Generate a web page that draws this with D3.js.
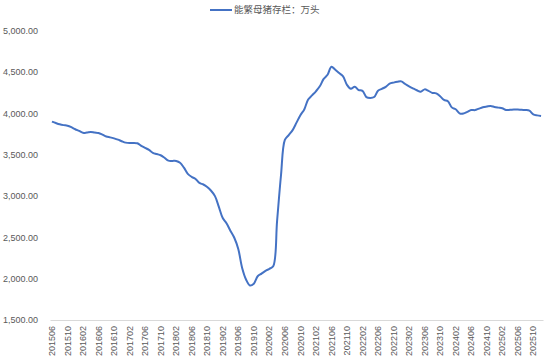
<!DOCTYPE html>
<html>
<head>
<meta charset="utf-8">
<script src="https://cdn.jsdelivr.net/npm/d3@7"></script>
<style>
  body { margin: 0; background: #fff; }
  text { font-family: "Liberation Sans", Arial, sans-serif; fill: #595959; }
</style>
</head>
<body>
<div class="chart"></div>
<script>
// monthly categories 201506 .. 202512
var months = [];
for (var yr = 2015, mo = 6; yr * 100 + mo <= 202512; mo++) {
    if (mo > 12) { mo = 1; yr++; }
    months.push(yr + (mo < 10 ? "0" : "") + mo);
}

var sows = [
    3902, 3885, 3870, 3860, 3853, 3835, 3810, 3790, 3767, 3770,
    3777, 3770, 3765, 3745, 3722, 3712, 3700, 3685, 3665, 3648,
    3643, 3645, 3640, 3610, 3585, 3560, 3525, 3510, 3495, 3465,
    3430, 3427, 3426, 3405, 3345, 3270, 3234, 3208, 3160, 3141,
    3110, 3065, 3000, 2870, 2735, 2669, 2578, 2493, 2360, 2130,
    1990, 1918, 1940, 2030, 2062, 2095, 2120, 2150, 2700, 3250,
    3680, 3740, 3800, 3890, 3980, 4050, 4170, 4220, 4270, 4330,
    4420, 4470, 4568, 4530, 4490, 4450, 4348, 4300, 4326, 4285,
    4275, 4200, 4190, 4200, 4277, 4300, 4324, 4362, 4375, 4385,
    4390, 4358, 4330, 4305, 4282, 4265, 4293, 4275, 4250, 4245,
    4210, 4165, 4150, 4075, 4052, 4003, 4000, 4020, 4043, 4042,
    4060, 4076, 4085, 4092, 4080, 4072, 4065, 4043, 4045, 4050,
    4050, 4045, 4043, 4035, 3990, 3978, 3971
];

var yTicks = [1500, 2000, 2500, 3000, 3500, 4000, 4500, 5000];
var xTicks = months.filter(function (d, i) { return i % 4 === 0; });
var legendLabel = "能繁母猪存栏：万头";

var W = 550, H = 357;
var svg = d3.select(".chart").append("svg")
    .attr("width", W).attr("height", H);

var x = d3.scaleBand().domain(months).range([50, 543]);
var y = d3.scaleLinear().domain([1500, 5000]).range([320, 31]);
var cx = function (m) { return x(m) + x.bandwidth() / 2; };

// y labels
svg.append("g").selectAll("text")
    .data(yTicks)
    .enter().append("text")
    .attr("x", 38)
    .attr("y", function (d) { return y(d); })
    .attr("dy", "0.35em")
    .attr("text-anchor", "end")
    .style("font-size", "9px")
    .text(function (d) { return d3.format(",.2f")(d); });

// x axis
var xAxis = svg.append("g")
    .attr("transform", "translate(0,320)")
    .call(d3.axisBottom(x).tickValues(xTicks).tickSize(0).tickPadding(0));
xAxis.select(".domain").attr("stroke", "#d9d9d9").attr("stroke-width", 1);
xAxis.selectAll("text")
    .attr("transform", "rotate(-90)")
    .attr("x", -6)
    .attr("y", 0)
    .attr("dy", "0.35em")
    .attr("text-anchor", "end")
    .style("font-size", "9px")
    .style("font-family", "'Liberation Sans', Arial, sans-serif")
    .attr("fill", "#595959");

// line
var line = d3.line()
    .x(function (d, i) { return cx(months[i]); })
    .y(function (d) { return y(d); })
    .curve(d3.curveCatmullRom);

svg.append("path")
    .datum(sows)
    .attr("fill", "none")
    .attr("stroke", "#4472C4")
    .attr("stroke-width", 2)
    .attr("stroke-linejoin", "round")
    .attr("d", line);

// legend
var lg = svg.append("g");
lg.append("line")
    .attr("x1", 210).attr("x2", 232)
    .attr("y1", 10).attr("y2", 10)
    .attr("stroke", "#4472C4").attr("stroke-width", 2);
lg.append("text")
    .attr("x", 234).attr("y", 10)
    .attr("dy", "0.35em")
    .style("font-size", "9.5px")
    .style("font-family", "'Noto Sans CJK SC', sans-serif")
    .text(legendLabel);
</script>
</body>
</html>
